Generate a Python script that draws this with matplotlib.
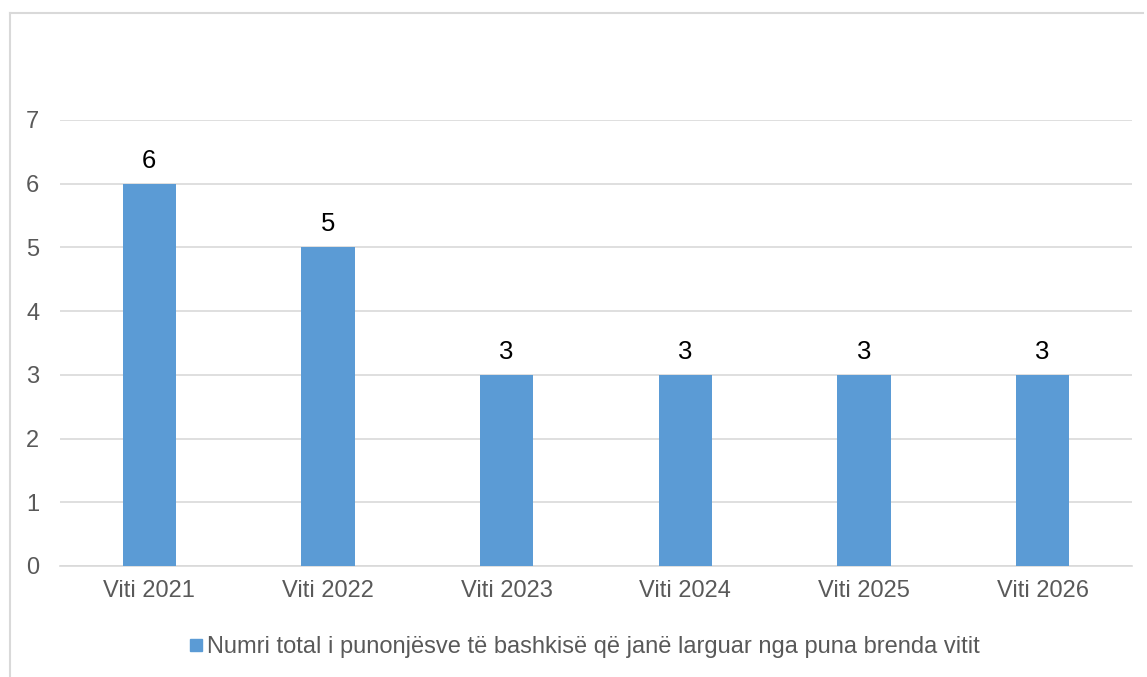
import matplotlib
matplotlib.use("Agg")
import matplotlib.pyplot as plt
from matplotlib.lines import Line2D

categories = ["Viti 2021", "Viti 2022", "Viti 2023", "Viti 2024", "Viti 2025", "Viti 2026"]
values = [6, 5, 3, 3, 3, 3]
series_name = "Numri total i punonjësve të bashkisë që janë larguar nga puna brenda vitit"
yticks = [0, 1, 2, 3, 4, 5, 6, 7]

plt.rcParams['font.family'] = ['Liberation Sans', 'DejaVu Sans']
W, H = 1147, 677
fig = plt.figure(figsize=(W/100, H/100), dpi=100)
ax = fig.add_axes([60/W, 1-566/H, (1132-60)/W, (566-120)/H])

bar_color = "#5B9BD5"
x = range(len(categories))
bars = ax.bar(x, values, width=0.30, color=bar_color, zorder=3)
for xi, v in zip(x, values):
    ax.annotate(str(v), (xi, v), xytext=(0, 8), textcoords="offset points",
                ha="center", va="bottom", fontsize=18.5, color="#000000")

ax.set_xlim(-0.5, len(categories)-0.5)
ax.set_ylim(0, 7)
ax.set_yticks(yticks)
ax.set_yticklabels([str(t) for t in yticks])
ax.set_xticks(list(x))
ax.set_xticklabels(categories)
ax.grid(axis="y", color="#D9D9D9", linewidth=1.2, zorder=0)
for s in ["top", "right", "left"]:
    ax.spines[s].set_visible(False)
ax.spines["bottom"].set_color("#D9D9D9")
ax.spines["bottom"].set_linewidth(1.2)
ax.tick_params(axis="both", length=0, labelsize=17, colors="#595959")
ax.tick_params(axis="x", pad=10)
ax.tick_params(axis="y", pad=15)

handle = Line2D([], [], marker="s", linestyle="none", markersize=8, color=bar_color)
fig.legend([handle], [series_name], loc="center", bbox_to_anchor=(583/W, 1-647/H),
           frameon=False, fontsize=17, labelcolor="#595959", handletextpad=0.05,
           handlelength=0.8)

# outer chart border (top and left edges visible)
fig.add_artist(Line2D([9.5/W, 9.5/W], [0, 1-12.5/H], transform=fig.transFigure,
                      color="#D9D9D9", linewidth=1.5))
fig.add_artist(Line2D([9.5/W, 1143/W], [1-12.5/H, 1-12.5/H], transform=fig.transFigure,
                      color="#D9D9D9", linewidth=1.5))

fig.savefig("out.png", dpi=100)
